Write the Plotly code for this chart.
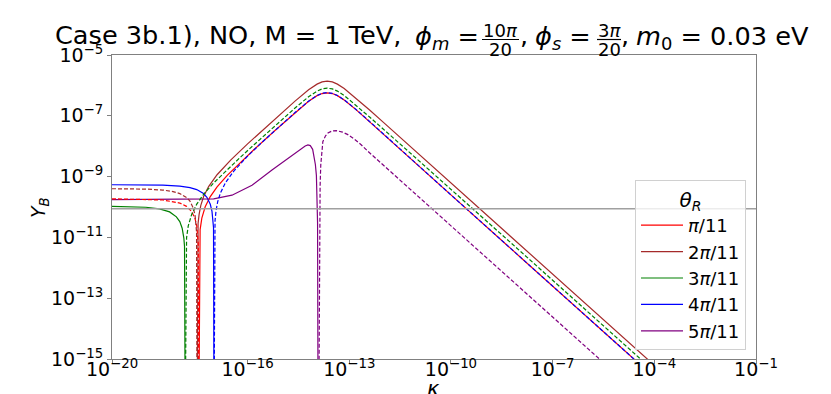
import plotly.graph_objects as go

# kappa / Y_B values
# solid and dashed pieces of each curve are split at the sign change (the dip)
red_dash_k = [1e-20, 1e-19, 3.16e-19, 1e-18, 1.58e-18, 2.24e-18, 2.82e-18, 3.16e-18, 3.39e-18, 3.51e-18, 3.63e-18]
red_dash_y = [1.86e-10, 1.81e-10, 1.70e-10, 1.35e-10, 1.05e-10, 7.1e-11, 4.15e-11, 2.4e-11, 1.2e-11, 6e-12, 1e-17]
red_solid_k = [3.63e-18, 3.80e-18, 3.98e-18, 4.47e-18, 5.62e-18, 7.94e-18, 1.26e-17, 2.51e-17, 6.31e-17, 1.58e-16,
               6.31e-16, 2.51e-15, 6.31e-15, 1.12e-14, 1.58e-14, 2.24e-14, 3.16e-14, 4.47e-14, 7.08e-14, 1.58e-13,
               3.98e-13, 1e-12, 1e-10, 1e-8, 1e-6, 1e-4, 1e-1]
red_solid_y = [1e-17, 9e-12, 1.8e-11, 4.3e-11, 1.02e-10, 2.2e-10, 4.6e-10, 1.1e-9, 3.06e-9, 7.9e-9,
               3.22e-8, 1.27e-7, 3.0e-7, 4.6e-7, 5.4e-7, 5.7e-7, 5.4e-7, 4.6e-7, 3.3e-7, 1.6e-7,
               6.4e-8, 2.5e-8, 2.5e-10, 2.5e-12, 2.5e-14, 2.5e-16, 2.5e-19]

brown_dash_k = [1e-20, 1e-19, 3.16e-19, 6.31e-19, 1e-18, 1.585e-18, 1.995e-18, 2.512e-18, 2.818e-18, 3.02e-18, 3.126e-18, 3.236e-18]
brown_dash_y = [3.99e-10, 3.88e-10, 3.61e-10, 3.22e-10, 2.77e-10, 2.05e-10, 1.55e-10, 9.1e-11, 5.3e-11, 2.8e-11, 1.5e-11, 1e-17]
brown_solid_k = [3.236e-18, 3.35e-18, 3.467e-18, 3.715e-18, 4.169e-18, 5.012e-18, 7.079e-18, 1.259e-17, 3.162e-17, 1e-16,
                 2.512e-16, 6.31e-16, 2.51e-15, 6.31e-15, 1.12e-14, 1.58e-14, 2.24e-14, 3.16e-14, 4.47e-14, 7.08e-14,
                 1.58e-13, 3.98e-13, 1e-12, 1e-10, 1e-8, 1e-6, 1e-4, 1e-1]
brown_solid_y = [1e-17, 1.4e-11, 2.9e-11, 5.7e-11, 1.13e-10, 2.17e-10, 4.7e-10, 1.15e-9, 3.5e-9, 1.19e-8,
                 3.05e-8, 7.76e-8, 3.05e-7, 7.2e-7, 1.1e-6, 1.3e-6, 1.38e-6, 1.3e-6, 1.1e-6, 7.9e-7,
                 3.8e-7, 1.55e-7, 6.2e-8, 6.2e-10, 6.2e-12, 6.2e-14, 6.2e-16, 6.2e-19]

green_solid_k = [1e-20, 1e-19, 2.51e-19, 5.01e-19, 7.94e-19, 1e-18, 1.175e-18, 1.318e-18, 1.38e-18, 1.445e-18]
green_solid_y = [1.043e-10, 9.8e-11, 8.7e-11, 6.9e-11, 4.75e-11, 3.3e-11, 2.0e-11, 9.5e-12, 5e-12, 1e-17]
green_dash_k = [1.445e-18, 1.514e-18, 1.585e-18, 1.778e-18, 2.239e-18, 3.162e-18, 5.012e-18, 1e-17, 2.51e-17, 6.31e-17,
                1.58e-16, 6.31e-16, 2.51e-15, 6.31e-15, 1.12e-14, 1.58e-14, 2.24e-14, 3.16e-14, 4.47e-14, 7.08e-14,
                1.58e-13, 3.98e-13, 1e-12, 1e-10, 1e-8, 1e-6, 1e-4, 1e-1]
green_dash_y = [1e-17, 5e-12, 9.8e-12, 2.4e-11, 5.7e-11, 1.24e-10, 2.6e-10, 6.2e-10, 1.71e-9, 4.47e-9,
                1.14e-8, 4.57e-8, 1.8e-7, 4.24e-7, 6.5e-7, 7.66e-7, 8.1e-7, 7.66e-7, 6.5e-7, 4.67e-7,
                2.24e-7, 9.1e-8, 3.7e-8, 3.9e-10, 3.9e-12, 3.9e-14, 3.9e-16, 3.9e-19]

blue_solid_k = [1e-20, 1e-19, 3.16e-19, 1e-18, 2.0e-18, 3.16e-18, 5.01e-18, 6.31e-18, 7.94e-18, 8.91e-18, 9.55e-18, 9.89e-18, 1.023e-17]
blue_solid_y = [5.39e-10, 5.35e-10, 5.23e-10, 4.88e-10, 4.35e-10, 3.74e-10, 2.77e-10, 2.09e-10, 1.23e-10, 7.2e-11, 3.9e-11, 2.1e-11, 1e-17]
blue_dash_k = [1.023e-17, 1.059e-17, 1.096e-17, 1.175e-17, 1.318e-17, 1.585e-17, 2.239e-17, 3.98e-17, 1e-16, 2.51e-16,
               6.31e-16, 2.51e-15, 6.31e-15, 1.12e-14, 1.58e-14, 2.24e-14, 3.16e-14, 4.47e-14, 7.08e-14, 1.58e-13,
               3.98e-13, 1e-12, 1e-10, 1e-8, 1e-6, 1e-4, 1e-1]
blue_dash_y = [1e-17, 1.6e-11, 3.5e-11, 7.7e-11, 1.52e-10, 2.9e-10, 6.4e-10, 1.55e-9, 4.7e-9, 1.27e-8,
               3.26e-8, 1.28e-7, 3.02e-7, 4.65e-7, 5.5e-7, 5.8e-7, 5.5e-7, 4.65e-7, 3.35e-7, 1.62e-7,
               6.5e-8, 2.55e-8, 2.5e-10, 2.5e-12, 2.5e-14, 2.5e-16, 2.5e-19]

purple_solid_k = [1e-20, 1e-19, 1e-18, 3.16e-18, 1e-17, 3.47e-17, 1.35e-16, 5.25e-16, 2.04e-15, 3.55e-15,
                  5.01e-15, 6.03e-15, 7.08e-15, 8.32e-15, 9.12e-15, 1e-14, 1.072e-14, 1.122e-14, 1.161e-14, 1.202e-14]
purple_solid_y = [1.75e-10, 1.76e-10, 1.78e-10, 1.8e-10, 1.85e-10, 2.45e-10, 5.2e-10, 1.66e-9, 5.1e-9, 7.9e-9,
                  1.02e-8, 1.1e-8, 1.05e-8, 7.9e-9, 4.5e-9, 2.5e-9, 1.1e-9, 2.5e-10, 3e-11, 1e-17]
purple_dash_k = [1.259e-14, 1.318e-14, 1.380e-14, 1.445e-14, 1.549e-14, 1.660e-14, 1.995e-14, 2.344e-14, 3.162e-14, 4.169e-14,
                 6.31e-14, 9.12e-14, 1.413e-13, 2.239e-13, 3.548e-13, 1e-12, 1e-10, 1e-8, 1e-6, 1e-4]
purple_dash_y = [1e-17, 3e-11, 5e-10, 2.5e-9, 7e-9, 1.4e-8, 2.2e-8, 2.7e-8, 3.2e-8, 3.25e-8,
                 2.9e-8, 2.4e-8, 1.7e-8, 1.12e-8, 6.8e-9, 2.4e-9, 2.4e-11, 2.4e-13, 2.4e-15, 2.4e-17]

y_obs = 8.7e-11
x_span = [1e-20, 1e-1]

labels = ['<i>π</i>/11', '2<i>π</i>/11', '3<i>π</i>/11', '4<i>π</i>/11', '5<i>π</i>/11']
colors = ['#ff0000', '#a52a2a', '#008000', '#0000ff', '#800080']
curves = [
    (red_solid_k, red_solid_y, red_dash_k, red_dash_y),
    (brown_solid_k, brown_solid_y, brown_dash_k, brown_dash_y),
    (green_solid_k, green_solid_y, green_dash_k, green_dash_y),
    (blue_solid_k, blue_solid_y, blue_dash_k, blue_dash_y),
    (purple_solid_k, purple_solid_y, purple_dash_k, purple_dash_y),
]

xtick_vals = [1e-20, 1e-16, 1e-13, 1e-10, 1e-7, 1e-4, 1e-1]
xtick_text = ['10<sup>−20</sup>', '10<sup>−16</sup>', '10<sup>−13</sup>', '10<sup>−10</sup>',
              '10<sup>−7</sup>', '10<sup>−4</sup>', '10<sup>−1</sup>']
ytick_vals = [1e-15, 1e-13, 1e-11, 1e-9, 1e-7, 1e-5]
ytick_text = ['10<sup>−15</sup>', '10<sup>−13</sup>', '10<sup>−11</sup>', '10<sup>−9</sup>',
              '10<sup>−7</sup>', '10<sup>−5</sup>']

W, H = 831, 394
L, R, T, B = 104, 83, 47, 43
FONT = 'DejaVu Sans'


def px(x):
    return (x - L) / (W - L - R)


def py(y):
    return (H - B - y) / (H - T - B)


fig = go.Figure()

# solid traces first so the legend lists them in order
for (sk, sy, dk, dy), lab, col in zip(curves, labels, colors):
    fig.add_trace(go.Scatter(x=sk, y=sy, mode='lines', name=lab,
                             line=dict(color=col, width=1.2)))
for (sk, sy, dk, dy), lab, col in zip(curves, labels, colors):
    fig.add_trace(go.Scatter(x=dk, y=dy, mode='lines', name=lab, showlegend=False,
                             line=dict(color=col, width=1.2, dash='4px,2px')))

fig.add_trace(go.Scatter(x=x_span, y=[y_obs, y_obs], mode='lines',
                         line=dict(color='#a0a0a0', width=1.5), showlegend=False, hoverinfo='skip'))

axis_common = dict(type='log', showgrid=False, zeroline=False, showline=True, mirror=True,
                   linecolor='#808080', linewidth=1, ticks='outside', ticklen=4, tickcolor='#808080',
                   tickfont=dict(family=FONT, size=19, color='black'))
fig.update_xaxes(range=[-20, -1], tickvals=xtick_vals, ticktext=xtick_text, ticklabelstandoff=-11, **axis_common)
fig.update_yaxes(range=[-15, -5], tickvals=ytick_vals, ticktext=ytick_text, **axis_common)

# title built from pieces so the fractions can be stacked like mathtext
title_font = dict(family=FONT, size=25.6, color='black')
frac_font = dict(family=FONT, size=18, color='black')
label_font = dict(family=FONT, size=19, color='black')
ann = [
    dict(text='Case 3b.1), NO, M = 1 TeV,', x=px(45), y=py(26.5), xanchor='left', font=title_font),
    dict(text='<i>ϕ</i><sub><i>m</i></sub> =', x=px(405), y=py(29.5), xanchor='left', font=title_font),
    dict(text='10<i>π</i>', x=px(492), y=py(22), xanchor='center', font=frac_font),
    dict(text='20', x=px(492), y=py(41), xanchor='center', font=frac_font),
    dict(text=',', x=px(510), y=py(26.5), xanchor='left', font=title_font),
    dict(text='<i>ϕ</i><sub><i>s</i></sub> =', x=px(525), y=py(29.5), xanchor='left', font=title_font),
    dict(text='3<i>π</i>', x=px(601), y=py(22), xanchor='center', font=frac_font),
    dict(text='20', x=px(601), y=py(41), xanchor='center', font=frac_font),
    dict(text=',', x=px(611), y=py(26.5), xanchor='left', font=title_font),
    dict(text='<i>m</i><sub>0</sub> = 0.03 eV', x=px(626), y=py(29.5), xanchor='left', font=title_font),
    dict(text='<i>κ</i>', x=px(425), y=py(381), xanchor='center', font=dict(family=FONT, size=21, color='black')),
    dict(text='<i>Y</i><sub><i>B</i></sub>', x=px(31), y=py(200), xanchor='center', textangle=-90, font=label_font),
]
for a in ann:
    a.update(xref='paper', yref='paper', yanchor='middle', showarrow=False)
    fig.add_annotation(**a)

for x0, x1 in [(474, 511), (589, 613)]:
    fig.add_shape(type='line', xref='paper', yref='paper', x0=px(x0), x1=px(x1),
                  y0=py(31.5), y1=py(31.5), line=dict(color='black', width=1.2))

fig.update_layout(
    width=W, height=H, margin=dict(l=L, r=R, t=T, b=B),
    paper_bgcolor='white', plot_bgcolor='white',
    font=dict(family=FONT, color='black'),
    legend=dict(title=dict(text='<i>θ<sub>R</sub></i>', side='top center', font=dict(family=FONT, size=20)),
                x=px(738), y=py(342), xanchor='right', yanchor='bottom', traceorder='normal',
                bgcolor='rgba(255,255,255,0.8)', bordercolor='#d0d0d0', borderwidth=1,
                font=dict(family=FONT, size=18), itemwidth=42, tracegroupgap=0),
)

fig.write_html("out.html")
